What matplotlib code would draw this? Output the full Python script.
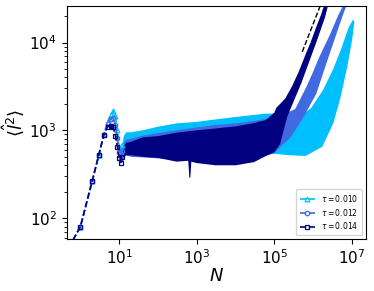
import numpy as np
import matplotlib
matplotlib.use("Agg")
import matplotlib.pyplot as plt

# sparse part, one point per N (first point sits below the axes)
n_sparse = [0.5, 1, 2, 3, 4, 5, 6, 7, 8, 9, 10, 11, 12]
y010_sparse = [46, 80, 262, 530, 900, 1250, 1500, 1650, 1450, 1000, 650, 560, 680]
y012_sparse = [46, 80, 262, 530, 890, 1180, 1350, 1380, 1150, 820, 560, 490, 580]
y014_sparse = [46, 80, 262, 530, 880, 1100, 1130, 1080, 870, 650, 480, 430, 500]

# dense part: envelopes of the oscillating band (upper edge, lower edge)
n014_up = [12, 13, 15, 20, 40, 100, 300, 1e3, 3e3, 1e4, 3e4, 6e4, 1e5, 1.11e5,
           1.89e5, 2.86e5, 4.26e5, 6.31e5, 8.49e5, 1.19e6, 1.6e6, 1.92e6, 2.1e6]
y014_up = [520, 650, 720, 740, 830, 860, 940, 1000, 1050, 1110, 1210, 1310, 1600, 1800,
           2300, 3200, 4700, 7300, 10000, 15000, 21000, 27000, 32000]
n014_lo = [12, 15, 20, 40, 100, 300, 600, 640, 680, 720, 1e3, 3e3, 1e4, 3e4, 6e4, 1e5,
           1.4e5, 2.13e5, 3.22e5, 4.89e5, 8.85e5, 1.19e6, 2.03e6, 2.43e6, 2.6e6]
y014_lo = [470, 520, 520, 500, 485, 440, 450, 290, 290, 440, 424, 400, 400, 435, 510, 565,
           700, 1430, 2210, 3430, 7000, 10000, 19700, 27000, 33000]

n012_up = [12, 13, 15, 20, 40, 100, 300, 1e3, 3e3, 1e4, 3e4, 6e4, 1e5, 1.89e5,
           3.42e5, 6.58e5, 9.4e5, 1.42e6, 2.73e6, 4.4e6, 6.28e6, 7e6]
y012_up = [580, 700, 780, 800, 870, 930, 1000, 1080, 1150, 1200, 1280, 1350, 1450, 1550,
           1750, 3100, 4400, 6800, 12500, 20500, 28000, 33000]
n012_lo = [12, 15, 20, 100, 1e3, 1e4, 3e4, 1e5, 1.6e5, 2.5e5, 3.42e5, 5.51e5, 1.19e6,
           2.73e6, 5.6e6, 7.3e6, 7.8e6]
y012_lo = [480, 520, 500, 480, 460, 450, 480, 550, 680, 820, 1000, 1400, 2600,
           7800, 19700, 27000, 32000]

n010_up = [12, 13, 15, 20, 40, 100, 300, 1e3, 3e3, 1e4, 3e4, 6e4, 1e5, 2.54e5,
           4.61e5, 8.85e5, 1.8e6, 3.27e6, 5.25e6, 7.97e6, 1.07e7]
y010_up = [680, 850, 950, 950, 1000, 1100, 1200, 1250, 1330, 1420, 1500, 1550, 1550, 1400,
           1450, 1800, 2900, 5000, 8500, 14500, 18500]
n010_lo = [12, 15, 100, 1e4, 1e5, 2.54e5, 6.31e5, 1.7e6, 3.27e6, 4.95e6, 7.51e6, 1.01e7, 1.14e7]
y010_lo = [560, 560, 520, 480, 540, 520, 510, 650, 1200, 2300, 5300, 11000, 17000]

# reference slope
n_ref = [5.2e5, 1.55e6]
y_ref = [7850, 27000]

series = [
    ("0.010", "#00BFFF", "^", y010_sparse, n010_up, y010_up, n010_lo, y010_lo),
    ("0.012", "#4169E1", "h", y012_sparse, n012_up, y012_up, n012_lo, y012_lo),
    ("0.014", "#000080", "s", y014_sparse, n014_up, y014_up, n014_lo, y014_lo),
]

fig = plt.figure(figsize=(3.74, 2.91), dpi=100)
ax = fig.add_axes([0.178, 0.179, 0.801, 0.800])

for tau, col, mk, ys, nu, yu, nl, yl in series:
    ax.fill(np.r_[nu, nl[::-1]], np.r_[yu, yl[::-1]], color=col, lw=0)
    ax.plot(n_sparse, ys, '--', color=col, marker=mk, ms=3.5, mfc='none',
            mew=0.9, lw=1.2, label=r'$\tau = %s$' % tau)

ax.plot(n_ref, y_ref, 'k--', lw=1)

ax.set_xscale('log')
ax.set_yscale('log')
ax.set_xlim(0.44, 2.3e7)
ax.set_ylim(58, 2.6e4)
ax.set_xticks([1e1, 1e3, 1e5, 1e7])
ax.xaxis.set_minor_locator(matplotlib.ticker.NullLocator())
ax.tick_params(labelsize=11)
ax.set_xlabel(r'$N$', fontsize=13, labelpad=0)
ax.set_ylabel(r'$\langle \hat{l}^2 \rangle$', fontsize=13, labelpad=2)

ax.legend(loc='lower right', fontsize=5.5, labelspacing=0.35, handlelength=2.0,
          borderpad=0.5)

fig.savefig("out.png", dpi=100)
